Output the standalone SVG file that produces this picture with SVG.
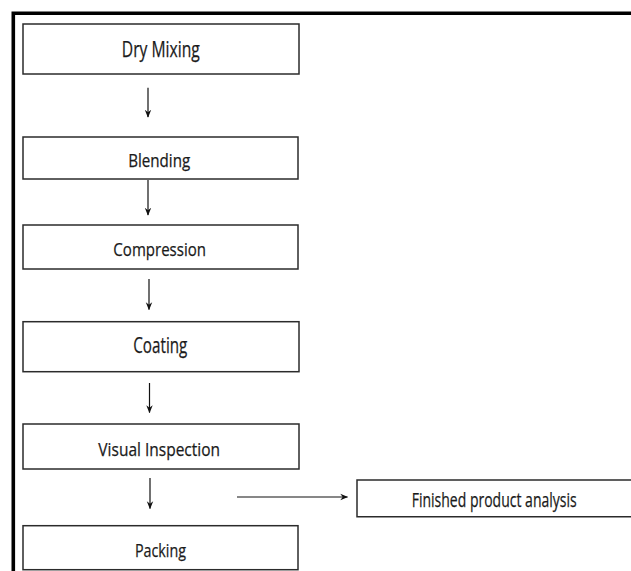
<svg xmlns="http://www.w3.org/2000/svg" width="631" height="571" viewBox="0 0 631 571">
<style>
.box{fill:#fff;stroke:#2b2b2b;stroke-width:1.5}
.lbl{font-family:"Open Sans","Liberation Sans",Arial,sans-serif;fill:#1a1a1a;stroke:#1a1a1a;stroke-width:0.25;text-anchor:middle}
.con{stroke:#111;stroke-width:1.2;fill:none;marker-end:url(#ah)}
</style>
<defs>
<marker id="ah" viewBox="0 0 10 10" refX="9" refY="5" markerWidth="8" markerHeight="8" markerUnits="userSpaceOnUse" orient="auto">
<path d="M0,1 L10,5 L0,9 L3,5 Z" fill="#111"/>
</marker>
</defs>
<rect width="631" height="571" fill="#fff"/>
<path d="M13.3,571 V13.3 H631" fill="none" stroke="#000" stroke-width="3.6"/>
<g id="dry-mixing"><rect class="box" x="23" y="24" width="276" height="50"/><text class="lbl" x="160.8" y="57" font-size="21" textLength="78" lengthAdjust="spacingAndGlyphs">Dry Mixing</text></g>
<g id="blending"><rect class="box" x="23" y="137" width="275" height="42"/><text class="lbl" x="159.2" y="166.7" font-size="18" textLength="62" lengthAdjust="spacingAndGlyphs">Blending</text></g>
<g id="compression"><rect class="box" x="23" y="225" width="275" height="44"/><text class="lbl" x="159.7" y="256" font-size="19" textLength="92.7" lengthAdjust="spacingAndGlyphs">Compression</text></g>
<g id="coating"><rect class="box" x="23" y="321.7" width="276" height="50"/><text class="lbl" x="160.3" y="352.7" font-size="21" textLength="54" lengthAdjust="spacingAndGlyphs">Coating</text></g>
<g id="visual-inspection"><rect class="box" x="23" y="424" width="276" height="45"/><text class="lbl" x="159.2" y="456" font-size="19" textLength="121.7" lengthAdjust="spacingAndGlyphs">Visual Inspection</text></g>
<g id="packing"><rect class="box" x="23" y="525.7" width="275" height="44"/><text class="lbl" x="160.5" y="556.7" font-size="18.5" textLength="51" lengthAdjust="spacingAndGlyphs">Packing</text></g>
<g id="finished-product-analysis"><path class="box" d="M631,480 H357 V516.7 H631"/><text class="lbl" x="494.2" y="507.3" font-size="19.5" textLength="165" lengthAdjust="spacingAndGlyphs">Finished product analysis</text></g>
<g id="connectors">
<line class="con" x1="148" y1="87.7" x2="148" y2="117"/>
<line class="con" x1="148" y1="180" x2="148" y2="215"/>
<line class="con" x1="149" y1="279" x2="149" y2="309.5"/>
<line class="con" x1="149.5" y1="383" x2="149.5" y2="412.5"/>
<line class="con" x1="150" y1="478" x2="150" y2="508.5"/>
<line class="con" x1="237" y1="497" x2="347.5" y2="497"/>
</g>
</svg>
